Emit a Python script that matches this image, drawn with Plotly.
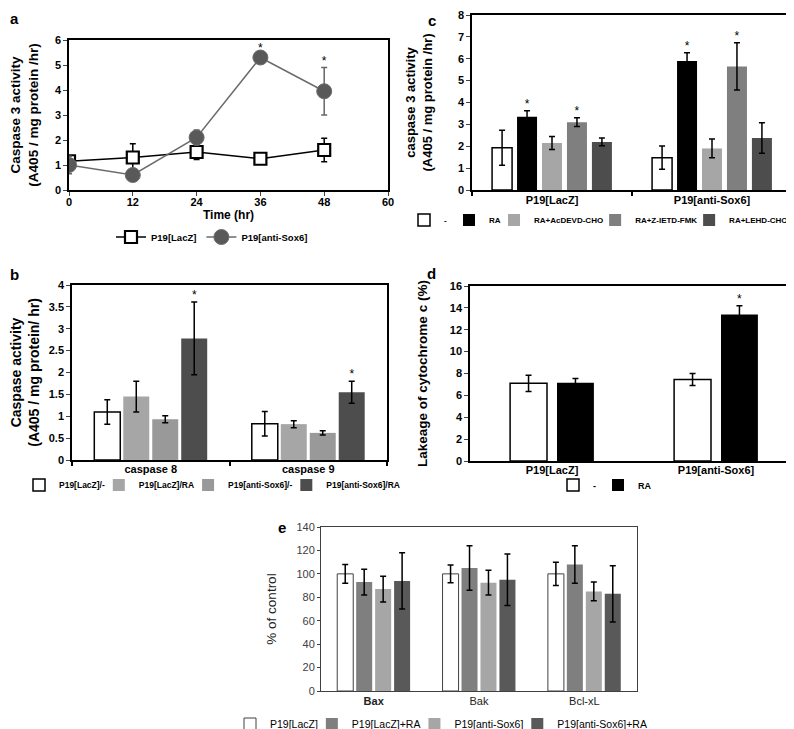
import plotly.graph_objects as go

FONT = "Arial, Liberation Sans, Helvetica, sans-serif"
W, H = 794, 729

# ---------------- Panel a data ----------------
time_hr = [0, 12, 24, 36, 48]
a_series = ["P19[LacZ]", "P19[anti-Sox6]"]
a_lacz = [1.15, 1.3, 1.52, 1.25, 1.6]
a_lacz_err = [0.1, 0.55, 0.3, 0.1, 0.47]
a_sox6 = [1.0, 0.6, 2.1, 5.3, 3.95]
a_sox6_err = [0.35, 0.1, 0.3, 0.1, 0.95]
a_sox6_sig = [False, False, False, True, True]

# ---------------- Panel b data ----------------
b_cats = ["caspase 8", "caspase 9"]
b_series = ["P19[LacZ]/-", "P19[LacZ]/RA", "P19[anti-Sox6]/-", "P19[anti-Sox6]/RA"]
b_vals = [[1.1, 0.83], [1.45, 0.82], [0.93, 0.62], [2.78, 1.55]]
b_errs = [[0.28, 0.28], [0.35, 0.08], [0.08, 0.05], [0.83, 0.25]]
b_sig = [[False, False], [False, False], [False, False], [True, True]]

# ---------------- Panel c data ----------------
c_cats = ["P19[LacZ]", "P19[anti-Sox6]"]
c_series = ["-", "RA", "RA+AcDEVD-CHO", "RA+Z-IETD-FMK", "RA+LEHD-CHO"]
c_vals = [[1.93, 1.48], [3.35, 5.9], [2.15, 1.9], [3.1, 5.65], [2.2, 2.38]]
c_errs = [[0.8, 0.53], [0.27, 0.37], [0.3, 0.43], [0.2, 1.08], [0.18, 0.7]]
c_sig = [[False, False], [True, True], [False, False], [True, True], [False, False]]

# ---------------- Panel d data ----------------
d_cats = ["P19[LacZ]", "P19[anti-Sox6]"]
d_series = ["-", "RA"]
d_vals = [[7.1, 7.45], [7.15, 13.4]]
d_errs = [[0.75, 0.55], [0.4, 0.8]]
d_sig = [[False, False], [False, True]]

# ---------------- Panel e data ----------------
e_cats = ["<b>Bax</b>", "Bak", "Bcl-xL"]
e_series = ["P19[LacZ]", "P19[LacZ]+RA", "P19[anti-Sox6]", "P19[anti-Sox6]+RA"]
e_vals = [[100, 100, 100], [93, 105, 108], [87, 92.5, 85], [94, 95, 83]]
e_errs = [[8, 7.5, 10], [11, 19, 16], [11, 10.5, 8], [24, 22, 24]]

fig = go.Figure()

# approximate Arial advance widths (em/1000) used only to pack legend entries tightly
_REG = {"P": 667, "1": 556, "9": 556, "[": 278, "]": 278, "L": 556, "a": 556, "c": 500,
        "Z": 611, "+": 584, "R": 722, "A": 667, "n": 556, "t": 278, "i": 222, "-": 333,
        "S": 667, "o": 556, "x": 500, "6": 556, "/": 278}
_BOLD = {"P": 667, "1": 556, "9": 556, "[": 333, "]": 333, "L": 611, "a": 556, "c": 556,
         "Z": 611, "+": 584, "R": 722, "A": 722, "n": 611, "t": 333, "i": 278, "-": 333,
         "S": 667, "o": 611, "x": 556, "6": 556, "/": 278, "D": 722, "E": 667, "V": 667,
         "C": 722, "H": 722, "O": 778, "I": 278, "T": 611, "F": 611, "M": 833, "K": 722}


def text_w(s, size, is_bold):
    tbl = _BOLD if is_bold else _REG
    return sum(tbl.get(ch, 600) for ch in s) * size / 1000.0


def legend_widths(names, size, is_bold, gap):
    out = []
    for k, nm in enumerate(names):
        if k == len(names) - 1:
            out.append(None)
        else:
            out.append(max(0.01, text_w(nm, size, is_bold) + gap - 19))
    return out


def bold(size, color="black"):
    return dict(family=FONT, size=size, color=color, weight="bold")


def reg(size, color="black"):
    return dict(family=FONT, size=size, color=color)


STAR = reg(12, "black")

# ---------------- Panel a traces ----------------
fig.add_trace(go.Scatter(
    x=time_hr, y=a_lacz, mode="lines+markers", name=a_series[0],
    line=dict(color="black", width=1.5),
    marker=dict(symbol="square", size=12, color="white", line=dict(color="black", width=2.2)),
    error_y=dict(type="data", array=a_lacz_err, color="black", thickness=1.5, width=3),
    xaxis="x", yaxis="y", legend="legend"))
fig.add_trace(go.Scatter(
    x=time_hr, y=a_sox6, mode="lines+markers", name=a_series[1],
    line=dict(color="#6b6b6b", width=1.5),
    marker=dict(symbol="circle", size=15, color="#595959", line=dict(color="#6b6b6b", width=1)),
    error_y=dict(type="data", array=a_sox6_err, color="#666666", thickness=1.5, width=3),
    xaxis="x", yaxis="y", legend="legend"))
fig.add_trace(go.Scatter(
    x=[t for t, s in zip(time_hr, a_sox6_sig) if s],
    y=[v + e for v, e, s in zip(a_sox6, a_sox6_err, a_sox6_sig) if s],
    mode="text", text=["*"] * sum(a_sox6_sig), textposition="top center",
    textfont=STAR, showlegend=False, hoverinfo="skip",
    xaxis="x", yaxis="y"))


def grouped(cats, series, vals, errs, sig, colors, outlines, pitch, width,
            xa, ya, leg, leg_size, leg_bold, leg_gap, outline_w=1.5, outline_col="black"):
    n = len(series)
    lws = legend_widths(series, leg_size, leg_bold, leg_gap)
    for j, name in enumerate(series):
        xs = [i + (j - (n - 1) / 2) * pitch for i in range(len(cats))]
        kw = {}
        if lws[j] is not None:
            kw["legendwidth"] = lws[j]
        fig.add_trace(go.Bar(
            x=xs, y=vals[j], width=width, name=name,
            marker=dict(color=colors[j],
                        line=dict(color=outline_col if outlines[j] else colors[j],
                                  width=outline_w if outlines[j] else 0)),
            error_y=dict(type="data", array=errs[j], color="black", thickness=1.5, width=3),
            xaxis=xa, yaxis=ya, legend=leg, **kw))
        if sig is not None and any(sig[j]):
            fig.add_trace(go.Scatter(
                x=[x for x, s in zip(xs, sig[j]) if s],
                y=[v + e for v, e, s in zip(vals[j], errs[j], sig[j]) if s],
                mode="text", text=["*"] * sum(sig[j]), textposition="top center",
                textfont=STAR, showlegend=False, hoverinfo="skip",
                xaxis=xa, yaxis=ya))


LEG_C, LEG_B, LEG_D, LEG_E = 8, 8.5, 9, 10.5

# Panel c
grouped(c_cats, c_series, c_vals, c_errs, c_sig,
        ["white", "black", "#a6a6a6", "#7f7f7f", "#4d4d4d"],
        [True, False, False, False, False], 0.156, 0.125, "x2", "y2", "legend2", LEG_C, True, 6)
# Panel b
grouped(b_cats, b_series, b_vals, b_errs, b_sig,
        ["white", "#a6a6a6", "#999999", "#4d4d4d"],
        [True, False, False, False], 0.184, 0.165, "x3", "y3", "legend3", LEG_B, True, 8)
# Panel d
grouped(d_cats, d_series, d_vals, d_errs, d_sig,
        ["white", "black"], [True, False], 0.286, 0.225, "x4", "y4", "legend4", LEG_D, True, 8)
# Panel e
grouped(e_cats, e_series, e_vals, e_errs, None,
        ["white", "#7f7f7f", "#a6a6a6", "#595959"],
        [True, False, False, False], 0.18, 0.152, "x5", "y5", "legend5", LEG_E, False, 8,
        outline_w=1, outline_col="#404040")


def px_x(p):
    return p / W


def px_y(p):
    return 1 - p / H


common = dict(showline=True, mirror=True, linecolor="black", linewidth=1.5,
              showgrid=False, zeroline=False)

layout = dict(
    width=W, height=H, paper_bgcolor="white", plot_bgcolor="white",
    margin=dict(l=0, r=0, t=0, b=0, autoexpand=False),
    font=reg(11),
    barmode="overlay",
    showlegend=True,
)

# Panel a axes
layout["xaxis"] = dict(common, domain=[px_x(61), px_x(380)], anchor="y", range=[0, 60],
                       tickmode="linear", tick0=0, dtick=12, ticks="outside", ticklen=4,
                       ticklabelstandoff=-3, tickfont=bold(11),
                       title=dict(text="Time (hr)", font=bold(12), standoff=0))
layout["yaxis"] = dict(common, domain=[px_y(182), px_y(32)], anchor="x", range=[0, 6],
                       tickmode="linear", tick0=0, dtick=1, ticks="outside", ticklen=4,
                       tickfont=bold(11),
                       title=dict(text="Caspase 3 activity<br>(A405 / mg protein /hr)",
                                  font=bold(13.5), standoff=16))

cat_minor = dict(ticks="outside", ticklen=4, tickcolor="black", tickwidth=1.5)

# Panel c axes
layout["xaxis2"] = dict(common, domain=[px_x(464), px_x(784)], anchor="y2", range=[-0.5, 1.5],
                        tickmode="array", tickvals=[0, 1], ticktext=c_cats, ticks="",
                        minor=dict(cat_minor, tickvals=[-0.5, 0.5, 1.5]),
                        ticklabelstandoff=-1, tickfont=bold(11))
layout["yaxis2"] = dict(common, domain=[px_y(182), px_y(7)], anchor="x2", range=[0, 8],
                        tickmode="linear", tick0=0, dtick=1, ticks="outside", ticklen=4,
                        tickfont=bold(11),
                        title=dict(text="caspase 3 activity<br>(A405 / mg protein /hr)",
                                   font=bold(13), standoff=22))

# Panel b axes
layout["xaxis3"] = dict(common, domain=[px_x(64), px_x(379)], anchor="y3", range=[-0.5, 1.5],
                        tickmode="array", tickvals=[0, 1], ticktext=b_cats, ticks="",
                        minor=dict(cat_minor, tickvals=[-0.5, 0.5, 1.5]),
                        ticklabelstandoff=-2, tickfont=bold(11))
layout["yaxis3"] = dict(common, domain=[px_y(452), px_y(277)], anchor="x3", range=[0, 4],
                        tickmode="linear", tick0=0, dtick=0.5, ticks="outside", ticklen=4,
                        tickfont=bold(11),
                        title=dict(text="Caspase activity<br>(A405 / mg protein/ hr)",
                                   font=bold(14), standoff=24))

# Panel d axes
layout["xaxis4"] = dict(common, domain=[px_x(462), px_x(790)], anchor="y4", range=[-0.5, 1.5],
                        tickmode="array", tickvals=[0, 1], ticktext=d_cats, ticks="",
                        ticklabelstandoff=-2, tickfont=bold(11))
layout["yaxis4"] = dict(common, domain=[px_y(453), px_y(278)], anchor="x4", range=[0, 16],
                        tickmode="linear", tick0=0, dtick=2, ticks="outside", ticklen=4,
                        tickfont=bold(11),
                        title=dict(text="Lakeage of cytochrome c (%)", font=bold(13.5), standoff=19))

# Panel e axes
common_e = dict(showline=True, mirror=True, linecolor="#404040", linewidth=1,
                showgrid=False, zeroline=False)
layout["xaxis5"] = dict(common_e, domain=[px_x(313), px_x(629)], anchor="y5", range=[-0.5, 2.5],
                        tickmode="array", tickvals=[0, 1, 2], ticktext=e_cats, ticks="",
                        tickfont=reg(11, "#222222"))
layout["yaxis5"] = dict(common_e, domain=[px_y(683), px_y(519)], anchor="x5", range=[0, 140],
                        tickmode="linear", tick0=0, dtick=20, ticks="outside", ticklen=3,
                        tickcolor="#404040", tickfont=reg(11, "#404040"),
                        title=dict(text="% of control", font=reg(13.5, "#222222"), standoff=16))

leg_common = dict(orientation="h", yanchor="middle",
                  bgcolor="rgba(0,0,0,0)", itemclick=False, itemdoubleclick=False)
layout["legend"] = dict(leg_common, xanchor="center", x=px_x(204), y=px_y(229), font=bold(9.5))
layout["legend2"] = dict(leg_common, xanchor="left", x=px_x(396), y=px_y(212), font=bold(LEG_C))
layout["legend3"] = dict(leg_common, xanchor="center", x=px_x(204), y=px_y(477), font=bold(LEG_B))
layout["legend4"] = dict(leg_common, xanchor="center", x=px_x(597), y=px_y(477), font=bold(LEG_D))
layout["legend5"] = dict(leg_common, xanchor="center", x=px_x(433), y=px_y(716), font=reg(LEG_E))

panel_labels = ["a", "b", "c", "d", "e"]
panel_label_px = [(6, 10), (6, 266), (424, 12), (424, 265), (274, 519)]
layout["annotations"] = [
    dict(text=t, x=px_x(p[0]), y=px_y(p[1]), xref="paper", yref="paper",
         xanchor="center", yanchor="middle", showarrow=False, font=bold(15))
    for t, p in zip(panel_labels, panel_label_px)
]

fig.update_layout(**layout)
fig.write_html("out.html")
